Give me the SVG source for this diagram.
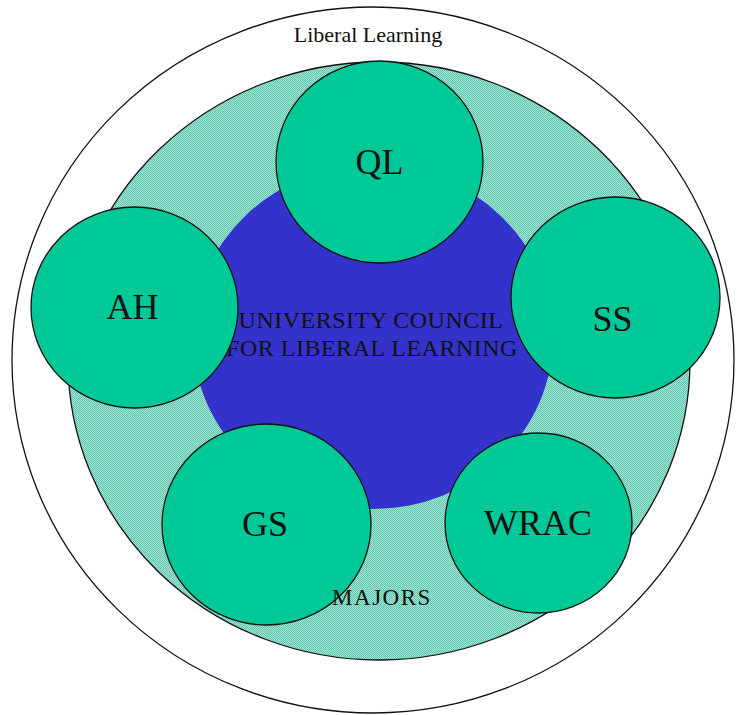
<svg xmlns="http://www.w3.org/2000/svg" width="737" height="715" viewBox="0 0 737 715">
<defs>
<pattern id="dots" x="0" y="0" width="2" height="2" patternUnits="userSpaceOnUse">
<rect width="2" height="2" fill="#a6e3d4"/>
<rect width="1" height="1" fill="#5cc8ae"/>
<rect x="1" y="1" width="1" height="1" fill="#5cc8ae"/>
</pattern>
<style>
.ring{stroke:#111;stroke-width:1.3}
.node{fill:#00c896;stroke:#111;stroke-width:1.3}
.lbl{font-family:"Liberation Serif","Times New Roman",serif;font-size:36px;fill:#111;text-anchor:middle}
.small{font-family:"Liberation Serif","Times New Roman",serif;fill:#111;text-anchor:middle}
</style>
</defs>
<rect width="737" height="715" fill="#ffffff"/>
<g id="liberal-learning">
<ellipse class="ring" cx="373" cy="360" rx="361" ry="353" fill="#ffffff"/>
<text class="small" x="368" y="42" font-size="22">Liberal Learning</text>
</g>
<g id="majors-ring">
<ellipse class="ring" cx="379" cy="361" rx="311" ry="299" fill="url(#dots)"/>
</g>
<g id="council">
<ellipse cx="373" cy="337" rx="180" ry="172" fill="#3333cc"/>
<text class="small" font-size="24" fill="#1a1a4a" letter-spacing="0.5"><tspan x="371" y="328">UNIVERSITY COUNCIL</tspan><tspan x="372" y="356">FOR LIBERAL LEARNING</tspan></text>
</g>
<g id="QL">
<ellipse class="node" cx="379.5" cy="162" rx="103.5" ry="101"/>
<text class="lbl" x="379.5" y="174">QL</text>
</g>
<g id="SS">
<ellipse class="node" cx="615.5" cy="297.5" rx="104.5" ry="100.5"/>
<text class="lbl" x="612.5" y="331">SS</text>
</g>
<g id="AH">
<ellipse class="node" cx="134.5" cy="307.5" rx="103.5" ry="100.5"/>
<text class="lbl" x="132.5" y="319">AH</text>
</g>
<g id="GS">
<ellipse class="node" cx="266.5" cy="524.5" rx="104.5" ry="100.5"/>
<text class="lbl" x="265" y="536">GS</text>
</g>
<g id="WRAC">
<ellipse class="node" cx="538.5" cy="523" rx="93.5" ry="90"/>
<text class="lbl" x="538" y="535">WRAC</text>
</g>
<g id="majors-label">
<text class="small" x="382" y="605" font-size="23" letter-spacing="1.5">MAJORS</text>
</g>
<g id="connectors"/>
</svg>
